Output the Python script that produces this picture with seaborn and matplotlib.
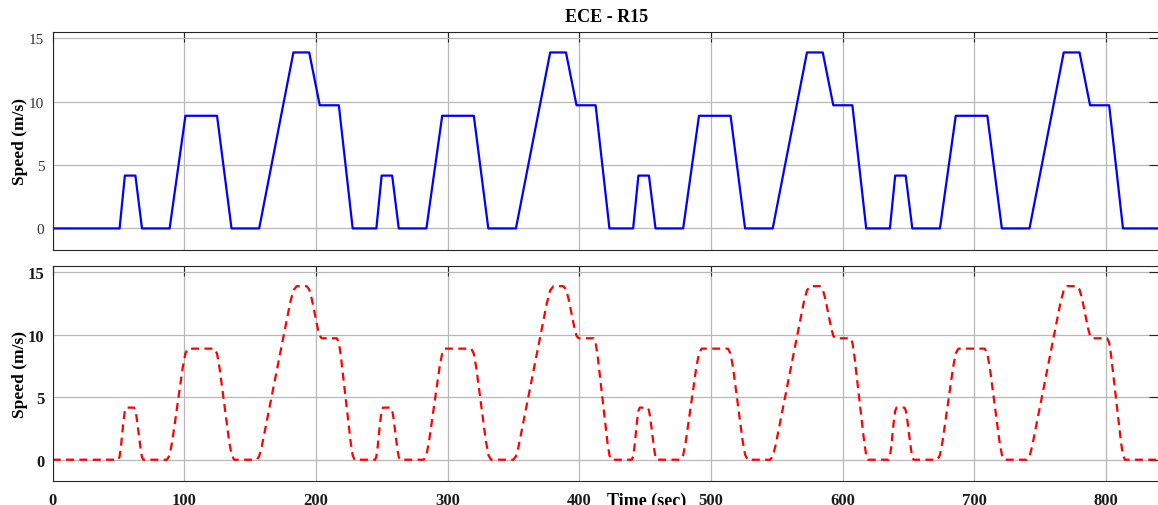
import matplotlib
matplotlib.use("Agg")
import matplotlib.pyplot as plt
import numpy as np
import pandas as pd
import seaborn as sns

# ---------------- data ----------------
title_text = "ECE - R15"
xlabel_text = "Time (sec)"
ylabel_text = "Speed (m/s)"

# start time (s) of the acceleration of each of the 4 repeated ECE-R15 cycles
cycle_starts = [50.8, 245.8, 440.8, 635.8]
end_time = 840

# reference (top, blue) profile: breakpoints inside one cycle
ref_offsets = [0, 4, 12, 17, 38, 50, 74, 85, 106, 132, 144, 152, 166.5, 177]
ref_speeds = [0, 4.17, 4.17, 0, 0, 8.89, 8.89, 0, 0, 13.89, 13.89, 9.72, 9.72, 0]

# simulated (bottom, red dashed) profile: rounded corners
sim_offsets = [-1, 0, 1, 3, 4, 5, 11, 12, 13, 16, 17, 18,
               36, 38, 40, 48, 50, 52, 72, 74, 76, 83, 85, 87,
               104, 106, 108, 129.5, 132, 134.5, 142, 144, 146,
               150.5, 152, 153.5, 165, 166.5, 168, 175.5, 177, 178.5]
sim_speeds = [0, 0.26, 1.04, 3.13, 3.91, 4.17, 4.17, 3.96, 3.34, 0.83, 0.21, 0,
              0, 0.37, 1.48, 7.41, 8.52, 8.89, 8.89, 8.49, 7.27, 1.62, 0.40, 0,
              0, 0.27, 1.07, 12.55, 13.56, 13.89, 13.89, 13.63, 12.85,
              10.50, 9.92, 9.72, 9.72, 9.37, 8.33, 1.39, 0.35, 0]

x_ticks = [0, 100, 200, 300, 400, 500, 600, 700, 800]
y_ticks = [0, 5, 10, 15]


def build(offsets, speeds):
    t = [0.0]
    v = [0.0]
    for s in cycle_starts:
        t += [s + o for o in offsets]
        v += list(speeds)
    t.append(end_time)
    v.append(0.0)
    return pd.DataFrame({"time": t, "speed": v})


ref_df = build(ref_offsets, ref_speeds)
sim_df = build(sim_offsets, sim_speeds)

# ---------------- style ----------------
sns.set_style("white")
plt.rcParams["font.family"] = ["Liberation Serif", "DejaVu Serif"]
plt.rcParams["mathtext.fontset"] = "stix"

W, H = 1158, 506
fig = plt.figure(figsize=(W / 100, H / 100), dpi=100)
left = 52.7 / W
width = (1158.8 - 52.7) / W
ax1 = fig.add_axes([left, 1 - 250.7 / H, width, 217.4 / H])
ax2 = fig.add_axes([left, 1 - 481.7 / H, width, 214.4 / H])

sns.lineplot(data=ref_df, x="time", y="speed", ax=ax1, color="#0000ff",
             linewidth=1.6, estimator=None, sort=False)
sns.lineplot(data=sim_df, x="time", y="speed", ax=ax2, color="#ff0000",
             linewidth=1.6, estimator=None, sort=False, linestyle="--")
ax2.lines[-1].set_dashes([3.6, 2.4])

spine_col = "#262626"
for i, ax in enumerate((ax1, ax2)):
    ax.set_xlim(0, end_time)
    ax.set_ylim(-1.68, 15.48)
    ax.set_xticks(x_ticks)
    ax.set_yticks(y_ticks)
    ax.grid(True, color="#b8b8b8", linewidth=0.9)
    ax.set_axisbelow(True)
    for sp in ax.spines.values():
        sp.set_visible(True)
        sp.set_color(spine_col)
        sp.set_linewidth(0.8)
    ax.tick_params(axis="both", direction="in", length=7, width=0.8,
                   color=spine_col, top=True, right=True)
    ax.set_xlabel("")
    ax.set_ylabel(ylabel_text, fontsize=12.5, fontweight="bold", color="black")
    ax.yaxis.set_label_coords(-0.0225, 0.5)

# top panel: regular grey tick labels, no x labels
ax1.tick_params(axis="x", labelbottom=False)
ax1.tick_params(axis="y", labelsize=11, labelcolor="#333333", pad=6)
# bottom panel: bold tick labels
ax2.tick_params(axis="both", labelsize=12, labelcolor="#1a1a1a")
ax2.tick_params(axis="y", pad=6)
ax2.tick_params(axis="x", pad=8)
for lab in ax2.get_xticklabels() + ax2.get_yticklabels():
    lab.set_fontweight("bold")

fig.text(606.5 / W, 1 - 18 / H, title_text, ha="center", va="center",
         fontsize=13, fontweight="bold", color="black")
fig.text(647 / W, 1 - 492.5 / H, xlabel_text, ha="center", va="top",
         fontsize=13, fontweight="bold", color="black")

fig.savefig("out.png", dpi=100)
